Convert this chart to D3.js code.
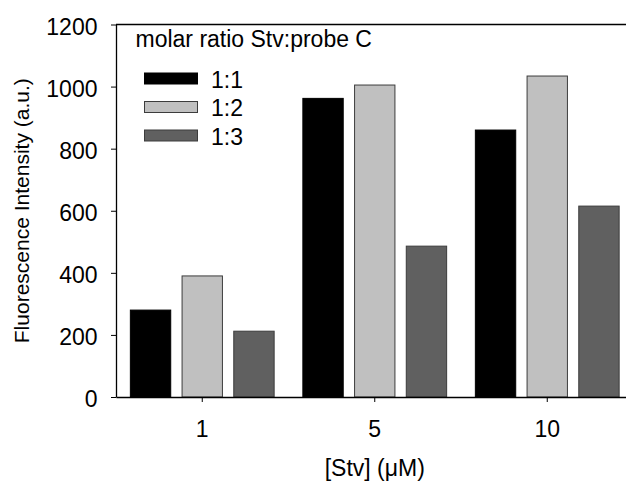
<!DOCTYPE html>
<html>
<head>
<meta charset="utf-8">
<script src="https://cdn.jsdelivr.net/npm/d3@7"></script>
<style>
  body { margin: 0; background: #fff; }
  text { font-family: "Liberation Sans", Arial, sans-serif; fill: #000; }
</style>
</head>
<body>
<svg id="chart"></svg>
<script>
// Data
var groups = ["1", "5", "10"];
var ratios = ["1:1", "1:2", "1:3"];
var ratio11 = [280, 962, 860];
var ratio12 = [390, 1005, 1034];
var ratio13 = [212, 486, 615];
var yTicks = [0, 200, 400, 600, 800, 1000, 1200];
var fills = ["#000000", "#c0c0c0", "#606060"];

var seriesValues = [ratio11, ratio12, ratio13];

var W = 626, H = 481;
var margin = {top: 24.5, left: 116, bottom: 84};
var step = 172.5;
var plotH = H - margin.top - margin.bottom;
var fs = "23px";

var svg = d3.select("#chart")
  .attr("width", W)
  .attr("height", H);

// outer scale: one band per concentration, last band runs past the picture edge
var x0 = d3.scaleBand()
  .domain(groups)
  .range([margin.left, margin.left + step * groups.length])
  .paddingInner(0)
  .paddingOuter(0);

var x1 = d3.scaleBand()
  .domain(ratios)
  .range([0, x0.bandwidth()])
  .paddingInner(0.2)
  .paddingOuter(0.268);

var y = d3.scaleLinear()
  .domain([0, 1200])
  .range([margin.top + plotH, margin.top]);

// bars
var g = svg.append("g");
groups.forEach(function(grp, gi) {
  ratios.forEach(function(r, si) {
    var v = seriesValues[si][gi];
    g.append("rect")
      .attr("x", x0(grp) + x1(r) + 0.5)
      .attr("y", y(v))
      .attr("width", x1.bandwidth() - 1)
      .attr("height", y(0) - y(v))
      .attr("fill", fills[si])
      .attr("stroke", si == 0 ? "#000" : "#3c3c3c")
      .attr("stroke-width", 1);
  });
});

// y axis
var yAxis = svg.append("g")
  .attr("transform", "translate(" + margin.left + ",0)")
  .call(d3.axisLeft(y).tickValues(yTicks).tickFormat(d3.format("d"))
    .tickSize(5).tickPadding(13.5).tickSizeOuter(0));
yAxis.selectAll("text").style("font-size", fs).attr("dy", "0.42em");

// x axis
var xAxis = svg.append("g")
  .attr("transform", "translate(0," + y(0) + ")")
  .call(d3.axisBottom(x0).tickSize(5).tickPadding(18.5).tickSizeOuter(0));
xAxis.selectAll("text").style("font-size", fs);

svg.selectAll(".domain").attr("stroke", "#000").attr("stroke-width", 1.3);
svg.selectAll(".tick line").attr("stroke", "#000");

// top frame line
svg.append("line")
  .attr("x1", margin.left).attr("x2", W)
  .attr("y1", margin.top).attr("y2", margin.top)
  .attr("stroke", "#000").attr("stroke-width", 1.3);

// axis titles
svg.append("text")
  .attr("transform", "translate(28.5," + (margin.top + plotH / 2) + ") rotate(-90)")
  .attr("text-anchor", "middle")
  .style("font-size", "21px")
  .text("Fluorescence Intensity (a.u.)");

svg.append("text")
  .attr("x", margin.left + step * 1.5)
  .attr("y", 476)
  .attr("text-anchor", "middle")
  .style("font-size", fs)
  .text("[Stv] (\u03bcM)");

// legend
var legend = svg.append("g");
legend.append("text")
  .attr("x", 135.5)
  .attr("y", 47)
  .style("font-size", fs)
  .text("molar ratio Stv:probe C");

ratios.forEach(function(r, i) {
  var cy = 78.5 + i * 28.5;
  legend.append("rect")
    .attr("x", 144.5).attr("y", cy - 5.5)
    .attr("width", 53).attr("height", 11)
    .attr("fill", fills[i])
    .attr("stroke", i == 0 ? "#000" : "#3c3c3c");
  legend.append("text")
    .attr("x", 211)
    .attr("y", cy + 9)
    .style("font-size", fs)
    .text(r);
});
</script>
</body>
</html>
